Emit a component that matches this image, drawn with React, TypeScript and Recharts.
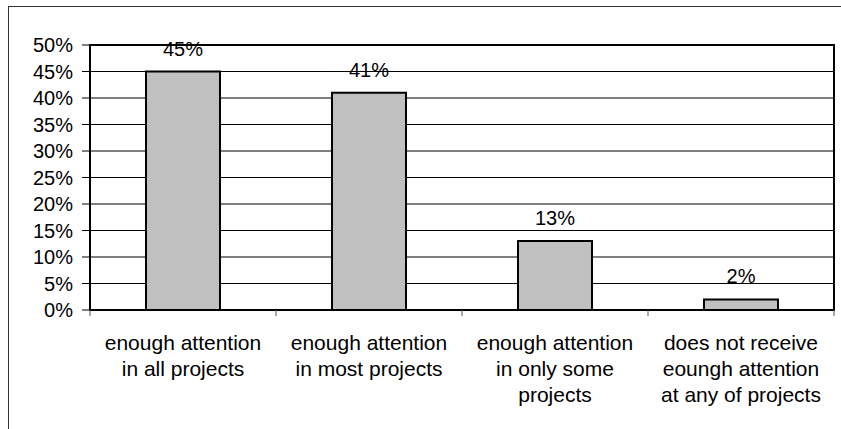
import React from "react";
import {
  BarChart,
  Bar,
  XAxis,
  YAxis,
  CartesianGrid,
  ReferenceArea,
  LabelList,
} from "recharts";

const categories = [
  "enough attention\nin all projects",
  "enough attention\nin most projects",
  "enough attention\nin only some\nprojects",
  "does not receive\neoungh attention\nat any of projects",
];
const values = [45, 41, 13, 2];
const yTicks = [0, 5, 10, 15, 20, 25, 30, 35, 40, 45, 50];

const data = categories.map((c, i) => ({ name: c, value: values[i] }));

const FONT = "'Liberation Sans', Arial, Helvetica, sans-serif";

const CategoryTick = (props: any) => {
  const { x, y, payload, index, width, visibleTicksCount } = props;
  const lines = String(payload.value).split("\n");
  const count = visibleTicksCount || categories.length;
  const band = width / count;
  const left = x - band / 2;
  const right = x + band / 2;
  const last = index === count - 1;
  return (
    <g>
      <line x1={left} x2={left} y1={y} y2={y + 6} stroke="#555" strokeWidth={1} />
      {last && (
        <line x1={right} x2={right} y1={y} y2={y + 6} stroke="#555" strokeWidth={1} />
      )}
      <text
        x={x}
        y={y}
        textAnchor="middle"
        fontFamily={FONT}
        fontSize={21}
        fill="#000"
      >
        {lines.map((l, i) => (
          <tspan key={i} x={x} y={y + 40 + i * 26}>
            {l}
          </tspan>
        ))}
      </text>
    </g>
  );
};

export default function App() {
  return (
    <div
      style={{
        position: "absolute",
        left: 0,
        top: 0,
        width: 841,
        height: 429,
        background: "#fff",
        overflow: "hidden",
      }}
    >
      <div
        style={{
          position: "absolute",
          left: 8,
          top: 6,
          width: 841,
          height: 429,
          borderLeft: "1px solid #333",
          borderTop: "1px solid #333",
          boxSizing: "border-box",
        }}
      />
      <div style={{ position: "absolute", left: 0, top: 0 }}>
        <BarChart
          width={841}
          height={429}
          data={data}
          margin={{ top: 45, right: 7, bottom: 0, left: 0 }}
          barCategoryGap={0}
        >
          <CartesianGrid
            horizontal
            vertical={false}
            stroke="#000"
            strokeWidth={1}
          />
          <XAxis
            dataKey="name"
            axisLine={false}
            tickLine={false}
            tickSize={0}
            tickMargin={0}
            height={119}
            interval={0}
            tick={<CategoryTick />}
          />
          <YAxis
            width={90}
            domain={[0, 50]}
            ticks={yTicks}
            interval={0}
            axisLine={false}
            tickLine={{ stroke: "#000", strokeWidth: 1 }}
            tickSize={8}
            tickMargin={9}
            tickFormatter={(v: number) => `${v}%`}
            tick={{ fill: "#000", fontSize: 20, fontFamily: FONT }}
          />
          <Bar
            dataKey="value"
            fill="#C0C0C0"
            stroke="#000"
            strokeWidth={2}
            barSize={74}
            isAnimationActive={false}
          >
            <LabelList
              dataKey="value"
              position="top"
              offset={16}
              formatter={(v: any) => `${v}%`}
              style={{ fill: "#000", fontSize: 20, fontFamily: FONT }}
            />
          </Bar>
          <ReferenceArea
            y1={0}
            y2={50}
            fill="none"
            fillOpacity={0}
            stroke="#000"
            strokeWidth={2}
            ifOverflow="visible"
          />
        </BarChart>
      </div>
    </div>
  );
}
